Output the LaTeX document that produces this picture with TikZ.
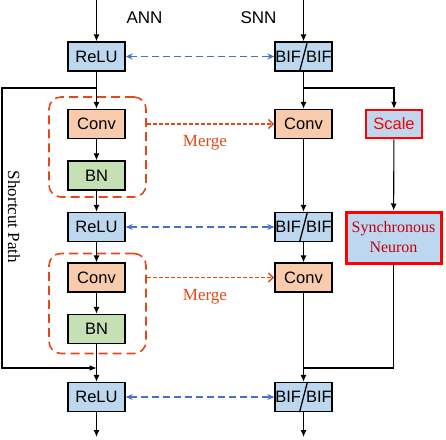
\documentclass[tikz,border=0pt]{standalone}
\usepackage{fontspec}
\setmainfont{Liberation Serif}
\setsansfont{Liberation Sans}
\usetikzlibrary{arrows.meta}
\definecolor{boxblue}{RGB}{189,215,238}
\definecolor{convorange}{RGB}{248,203,173}
\definecolor{bngreen}{RGB}{197,224,180}
\definecolor{mergered}{RGB}{228,72,24}
\definecolor{linkblue}{RGB}{68,114,196}
\definecolor{neured}{RGB}{192,0,20}
\tikzset{
  blk/.style={draw, line width=1.4pt, minimum width=57pt, minimum height=29pt, inner sep=0pt,
    font=\sffamily\fontsize{16.5}{18}\selectfont},
  arr/.style={line width=1.1pt, -{Latex[length=7pt,width=6pt]}},
  grp/.style={draw=mergered, line width=1.6pt, dash pattern=on 9pt off 5pt, rounded corners=12pt,
    minimum width=97pt, minimum height=100pt},
  mergearr/.style={mergered, line width=1.4pt, dash pattern=on 4pt off 2pt, -{Straight Barb[length=5pt,width=9pt]}},
  linkarr/.style={linkblue, line width=1.3pt, dash pattern=on 7pt off 4pt, {Stealth[length=7pt,width=6pt]}-{Stealth[length=7pt,width=6pt]}},
  mergetxt/.style={mergered, font=\fontsize{17}{19}\selectfont},
}
\begin{document}
\begin{tikzpicture}[x=1pt,y=-1pt]
\useasboundingbox (0,0) rectangle (446,439);

\node[font=\sffamily\fontsize{17}{19}\selectfont] (ann) at (144.5,18) {ANN};
\node[font=\sffamily\fontsize{17}{19}\selectfont] (snn) at (258.5,18) {SNN};

\node[grp] (g1) at (97.5,147) {};
\node[grp] (g2) at (97.5,303.5) {};

\node[blk, fill=boxblue] (relu1) at (96.5,56.5) {ReLU};
\node[blk, fill=convorange] (conv1) at (96.5,124) {Conv};
\node[blk, fill=bngreen] (bn1) at (96.5,175.5) {BN};
\node[blk, fill=boxblue] (relu2) at (96.5,227) {ReLU};
\node[blk, fill=convorange] (conv2) at (96.5,277.5) {Conv};
\node[blk, fill=bngreen] (bn2) at (96.5,329) {BN};
\node[blk, fill=boxblue] (relu3) at (96.5,397) {ReLU};

\node[blk, fill=boxblue] (bif1) at (303.5,56.5) {BIF\hspace{5pt}BIF};
\node[blk, fill=convorange] (sconv1) at (303.5,124) {Conv};
\node[blk, fill=boxblue] (bif2) at (303.5,227) {BIF\hspace{5pt}BIF};
\node[blk, fill=convorange] (sconv2) at (303.5,277.5) {Conv};
\node[blk, fill=boxblue] (bif3) at (303.5,397) {BIF\hspace{5pt}BIF};
\foreach \b in {bif1,bif2,bif3}
  \draw[line width=1.3pt] ([xshift=-4pt]\b.south) -- ([xshift=4pt]\b.north);

\node[blk, fill=boxblue, draw=red, line width=2.5pt, text=red, minimum width=56pt, minimum height=28pt] (scale) at (394,124) {Scale};
\node[blk, fill=boxblue, draw=red, line width=3pt, text=neured, minimum width=95pt, minimum height=51pt,
  align=center, font=\fontsize{16}{20}\selectfont] (syn) at (393.5,237.5) {Synchronous\\Neuron};

\node[rotate=-90, font=\fontsize{17}{19}\selectfont] (sp) at (14,217) {Shortcut Path};

\coordinate (in1) at (96.5,0);
\coordinate (in2) at (303.5,0);
\coordinate (out1) at (96.5,437);
\coordinate (out2) at (303.5,437);
\coordinate (s1) at (96.5,88);
\coordinate (sc1) at (2,88);
\coordinate (sc2) at (2,368);
\coordinate (j1) at (96.5,368);
\coordinate (b1) at (303.5,88);
\coordinate (j2) at (303.5,368);

\draw[arr] (in1) -- (relu1);
\draw[arr] (relu1) -- (conv1);
\draw[arr] (conv1) -- (bn1);
\draw[arr] (bn1) -- (relu2);
\draw[arr] (relu2) -- (conv2);
\draw[arr] (conv2) -- (bn2);
\draw[arr] (bn2) -- (relu3);
\draw[arr] (relu3) -- (out1);
\draw[arr] (s1) -- (sc1) -- (sc2) -- (j1);

\draw[arr] (in2) -- (bif1);
\draw[arr] (bif1) -- (sconv1);
\draw[arr] (b1) -| (scale);
\draw[arr] (scale) -- (syn);
\draw[arr] (sconv1) -- (bif2);
\draw[arr] (bif2) -- (sconv2);
\draw[arr] (sconv2) -- (bif3);
\draw[line width=1.1pt] (syn) |- (j2);
\draw[arr] (bif3) -- (out2);

\draw[linkarr] (relu1) -- (bif1);
\draw[linkarr] (relu2) -- (bif2);
\draw[linkarr] (relu3) -- (bif3);

\draw[mergearr] (g1.east |- conv1) -- (sconv1);
\draw[mergearr] (g2.east |- conv2) -- (sconv2);
\node[mergetxt] (m1) at (205,143) {Merge};
\node[mergetxt] (m2) at (205,297) {Merge};
\end{tikzpicture}
\end{document}
